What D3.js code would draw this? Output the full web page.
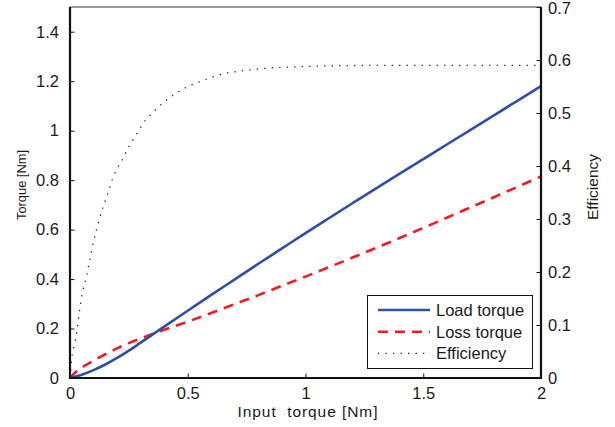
<!DOCTYPE html>
<html>
<head>
<meta charset="utf-8">
<script src="https://cdn.jsdelivr.net/npm/d3@7"></script>
<style>
  html, body { margin: 0; padding: 0; background: #fff; }
  svg { display: block; font-family: "Liberation Sans", Arial, Helvetica, sans-serif; }
</style>
</head>
<body>
<svg id="chart" width="615" height="427"></svg>
<script>
// Input torque samples [Nm] for the torque curves
const inputTorque = [0, 0.025, 0.05, 0.1, 0.15, 0.2, 0.25, 0.3, 0.35, 0.4, 0.5, 0.6, 0.7, 0.8, 0.9, 1.0, 1.2, 1.4, 1.6, 1.8, 2.0];
// Load torque [Nm]
const loadTorque = [0, 0.006, 0.0135, 0.032, 0.0545, 0.081, 0.1105, 0.143, 0.1755, 0.208, 0.272, 0.336, 0.399, 0.462, 0.524, 0.586, 0.707, 0.826, 0.944, 1.062, 1.18];
// Loss torque [Nm]
const lossTorque = [0, 0.024, 0.042, 0.07, 0.096, 0.12, 0.141, 0.16, 0.178, 0.195, 0.228, 0.263, 0.299, 0.335, 0.373, 0.41, 0.487, 0.566, 0.648, 0.731, 0.815];
// Efficiency curve (own sampling, steep near zero)
const effInput = [0, 0.01, 0.02, 0.03, 0.04, 0.05, 0.07, 0.08, 0.1, 0.12, 0.14, 0.16, 0.18, 0.2, 0.22, 0.25, 0.27, 0.3, 0.32, 0.35, 0.4, 0.45, 0.5, 0.55, 0.6, 0.66, 0.72, 0.8, 0.85, 0.95, 1.1, 1.4, 2.0];
const efficiency = [0, 0.045, 0.065, 0.09, 0.125, 0.155, 0.192, 0.214, 0.258, 0.292, 0.322, 0.347, 0.375, 0.395, 0.41, 0.437, 0.451, 0.473, 0.486, 0.5, 0.521, 0.537, 0.55, 0.559, 0.567, 0.575, 0.579, 0.583, 0.585, 0.587, 0.589, 0.59, 0.59];

const xTicks = [0, 0.5, 1, 1.5, 2];
const yLeftTicks = [0, 0.2, 0.4, 0.6, 0.8, 1, 1.2, 1.4];
const yRightTicks = [0, 0.1, 0.2, 0.3, 0.4, 0.5, 0.6, 0.7];
const seriesNames = ["Load torque", "Loss torque", "Efficiency"];

const svg = d3.select("#chart");
const m = { left: 70, right: 541, top: 7, bottom: 378 };

const x = d3.scaleLinear().domain([0, 2]).range([m.left, m.right]);
const yL = d3.scaleLinear().domain([0, 1.5]).range([m.bottom, m.top]);
const yR = d3.scaleLinear().domain([0, 0.7]).range([m.bottom, m.top]);

const fmt = d => String(+d.toFixed(2));

// curves
const lineL = d3.line().x(d => x(d[0])).y(d => yL(d[1])).curve(d3.curveMonotoneX);
const lineR = d3.line().x(d => x(d[0])).y(d => yR(d[1])).curve(d3.curveMonotoneX);

const effStyle = { stroke: "#222", w: 1.3, dash: "1.3 6.2" };
const lossStyle = { stroke: "#ee1d25", w: 2.6, dash: "10 7" };
const loadStyle = { stroke: "#2e4fa3", w: 2.6, dash: null };

const plot = svg.append("g");
plot.append("path")
  .datum(effInput.map((v, i) => [v, efficiency[i]]))
  .attr("d", lineR).attr("fill", "none")
  .attr("stroke", effStyle.stroke).attr("stroke-width", effStyle.w).attr("stroke-dasharray", effStyle.dash);
plot.append("path")
  .datum(inputTorque.map((v, i) => [v, lossTorque[i]]))
  .attr("d", lineL).attr("fill", "none")
  .attr("stroke", lossStyle.stroke).attr("stroke-width", lossStyle.w).attr("stroke-dasharray", lossStyle.dash);
plot.append("path")
  .datum(inputTorque.map((v, i) => [v, loadTorque[i]]))
  .attr("d", lineL).attr("fill", "none")
  .attr("stroke", loadStyle.stroke).attr("stroke-width", loadStyle.w);

// axes
const axisColor = "#111";
const tl = 4.5;
const axes = svg.append("g");

const gx = axes.append("g").attr("transform", `translate(0,${m.bottom})`)
  .call(d3.axisBottom(x).tickValues(xTicks).tickFormat(fmt).tickSizeInner(-tl).tickSizeOuter(0).tickPadding(12));
const gl = axes.append("g").attr("transform", `translate(${m.left},0)`)
  .call(d3.axisLeft(yL).tickValues(yLeftTicks).tickFormat(fmt).tickSizeInner(-tl).tickSizeOuter(0).tickPadding(11));
const gr = axes.append("g").attr("transform", `translate(${m.right},0)`)
  .call(d3.axisRight(yR).tickValues(yRightTicks).tickFormat(fmt).tickSizeInner(-tl).tickSizeOuter(0).tickPadding(7));

[gx, gl, gr].forEach(g => {
  g.attr("font-family", null).attr("font-size", 16.5);
  g.select(".domain").remove();
  g.selectAll(".tick line").attr("stroke", axisColor).attr("stroke-width", 1);
  g.selectAll(".tick text").attr("fill", "#1a1a1a");
});
gx.selectAll(".tick text").attr("dy", "0.55em");
// keep the topmost right label inside the canvas
gr.selectAll(".tick text").filter(d => d === 0.7).attr("dy", "0.42em");

// box outline
svg.append("rect")
  .attr("x", m.left).attr("y", m.top)
  .attr("width", m.right - m.left).attr("height", m.bottom - m.top)
  .attr("fill", "none").attr("stroke", "#333").attr("stroke-width", 1);
svg.append("line").attr("x1", m.left).attr("x2", m.left).attr("y1", m.top).attr("y2", m.bottom + 1)
  .attr("stroke", axisColor).attr("stroke-width", 2.2);
svg.append("line").attr("x1", m.left - 1).attr("x2", m.right + 1).attr("y1", m.bottom).attr("y2", m.bottom)
  .attr("stroke", axisColor).attr("stroke-width", 2.2);
svg.append("line").attr("x1", m.right).attr("x2", m.right).attr("y1", m.top).attr("y2", m.bottom + 1)
  .attr("stroke", axisColor).attr("stroke-width", 2.2);

// axis titles
svg.append("text").attr("x", 307.5).attr("y", 417).attr("text-anchor", "middle")
  .attr("font-size", 15.5).attr("fill", "#1a1a1a").style("white-space", "pre")
  .attr("textLength", 140).attr("lengthAdjust", "spacing")
  .text("Input  torque [Nm]");
svg.append("text").attr("transform", "translate(26,185) rotate(-90)").attr("text-anchor", "middle")
  .attr("font-size", 13.5).attr("fill", "#1a1a1a")
  .attr("textLength", 70).attr("lengthAdjust", "spacingAndGlyphs")
  .text("Torque [Nm]");
svg.append("text").attr("transform", "translate(598,187) rotate(-90)").attr("text-anchor", "middle")
  .attr("font-size", 15.5).attr("fill", "#1a1a1a").text("Efficiency");

// legend
const leg = svg.append("g");
leg.append("rect").attr("x", 367.5).attr("y", 295.5).attr("width", 165).attr("height", 73)
  .attr("fill", "#fff").attr("stroke", "#111").attr("stroke-width", 1);
[loadStyle, lossStyle, effStyle].forEach((s, i) => {
  const yy = 310 + i * 21.7;
  leg.append("line").attr("x1", 378).attr("x2", 430).attr("y1", yy).attr("y2", yy)
    .attr("stroke", s.stroke).attr("stroke-width", s.w).attr("stroke-dasharray", s.dash);
  leg.append("text").attr("x", 436).attr("y", yy + 6).attr("font-size", 16.5).attr("fill", "#1a1a1a").text(seriesNames[i]);
});
</script>
</body>
</html>
